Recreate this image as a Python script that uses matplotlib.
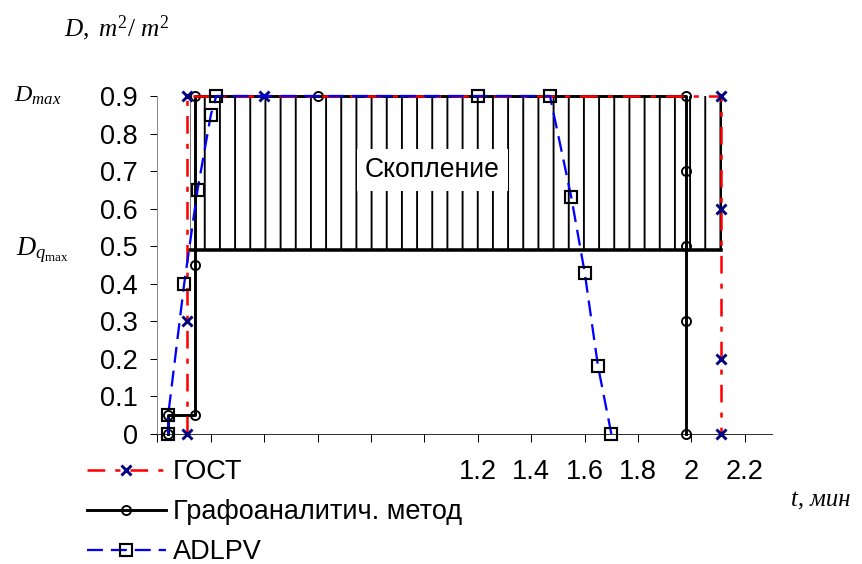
import matplotlib
matplotlib.use('Agg')
import matplotlib.pyplot as plt

# ---- data ----
# ГОСТ
gost_t = [0.11, 0.11, 0.11, 0.40, 2.11, 2.11, 2.11, 2.11]
gost_d = [0.0, 0.3, 0.9, 0.9, 0.9, 0.6, 0.2, 0.0]

# Графоаналитический метод
graf_t = [0.04, 0.04, 0.14, 0.14, 0.14, 0.60, 1.98, 1.98, 1.98, 1.98, 1.98]
graf_d = [0.0, 0.05, 0.05, 0.45, 0.9, 0.9, 0.9, 0.7, 0.5, 0.3, 0.0]

# ADLPV
adlpv_t = [0.04, 0.04, 0.10, 0.15, 0.20, 0.22, 1.20, 1.47, 1.55, 1.60, 1.65, 1.70]
adlpv_d = [0.0, 0.05, 0.40, 0.65, 0.85, 0.90, 0.90, 0.90, 0.63, 0.43, 0.18, 0.0]

# зона скопления
zone_t = [0.12, 2.11]
zone_d = [0.49, 0.9]

xticks = [0.0, 0.2, 0.4, 0.6, 0.8, 1.0, 1.2, 1.4, 1.6, 1.8, 2.0, 2.2]
xtick_labels = ['', '', '', '', '', '', '1.2', '1.4', '1.6', '1.8', '2', '2.2']
yticks = [0.0, 0.1, 0.2, 0.3, 0.4, 0.5, 0.6, 0.7, 0.8, 0.9]
ytick_labels = ['0', '0.1', '0.2', '0.3', '0.4', '0.5', '0.6', '0.7', '0.8', '0.9']

plt.rcParams['font.family'] = ['Liberation Sans', 'DejaVu Sans']
plt.rcParams['mathtext.fontset'] = 'custom'
plt.rcParams['mathtext.rm'] = 'Liberation Serif'
plt.rcParams['mathtext.it'] = 'Liberation Serif:italic'
plt.rcParams['hatch.linewidth'] = 1.5
plt.rcParams['hatch.color'] = 'black'

DPI = 91
fig = plt.figure(figsize=(862 / DPI, 564 / DPI), dpi=DPI)
ax = fig.add_axes([0.1827, 0.2305, 0.7124, 0.5993])

# hatched zone
ax.fill_between(zone_t, [zone_d[0]] * 2, [zone_d[1]] * 2, hatch='|',
                facecolor='none', edgecolor='black', linewidth=0, zorder=1)
ax.plot(zone_t, [zone_d[0]] * 2, color='black', lw=2.8,
        solid_capstyle='projecting', zorder=2, clip_on=False)
ax.plot([zone_t[1]] * 2, zone_d, color='black', lw=1.6, zorder=2, clip_on=False)

l_graf, = ax.plot(graf_t, graf_d, color='black', lw=2.3, marker='o', ms=7.2,
                  mfc='none', mec='black', mew=1.5, zorder=3, clip_on=False,
                  label='Графоаналитич. метод')
l_gost, = ax.plot(gost_t, gost_d, color='red', lw=2.0, dashes=(7, 4, 2, 4),
                  marker='x', ms=8.5, mec='#000080', mew=2.3, zorder=4,
                  clip_on=False, label='ГОСТ')
l_adlpv, = ax.plot(adlpv_t, adlpv_d, color='blue', lw=1.8, dashes=(7, 3.5),
                   marker='s', ms=9, mfc='none', mec='black', mew=1.7,
                   zorder=5, clip_on=False, label='ADLPV')

ax.text(1.03, 0.703, 'Скопление', fontsize=21, ha='center', va='center',
        zorder=6, bbox=dict(facecolor='white', edgecolor='none', pad=6))

ax.set_xlim(0, 2.3)
ax.set_ylim(0, 0.9)
ax.set_xticks(xticks)
ax.set_xticklabels(xtick_labels, fontsize=21.5)
ax.set_yticks(yticks)
ax.set_yticklabels(ytick_labels, fontsize=21.5)
ax.tick_params(axis='y', direction='out', length=5.5, width=0.8, pad=10, colors='black')
ax.tick_params(axis='x', direction='out', length=6, width=0.8, pad=14, colors='black')
ax.spines['top'].set_visible(False)
ax.spines['right'].set_visible(False)
ax.spines['left'].set_color('#888888')
ax.spines['bottom'].set_color('#333333')
ax.spines['left'].set_linewidth(0.8)
ax.spines['bottom'].set_linewidth(0.8)

fig.text(117 / 862, 1 - 28 / 564, r'$D,\ m^{2}/\ m^{2}$', fontsize=20,
         ha='center', va='center')
fig.text(38 / 862, 1 - 96 / 564, r'$D_{max}$', fontsize=19,
         ha='center', va='center')
fig.text(42 / 862, 1 - 250 / 564, r'$D_{q_{\rm max}}$', fontsize=21,
         ha='center', va='center')
fig.text(821 / 862, 1 - 500 / 564, 't, мин', fontsize=19.5, style='italic',
         family='Liberation Serif', ha='center', va='center')

fig.legend(handles=[l_gost, l_graf, l_adlpv], loc='upper left',
           bbox_to_anchor=(87 / 862, 0.186), frameon=False, borderpad=0,
           borderaxespad=0, fontsize=21.5, handlelength=2.9,
           handletextpad=0.26, labelspacing=0.52, numpoints=1)

fig.savefig('out.png', dpi=DPI)
